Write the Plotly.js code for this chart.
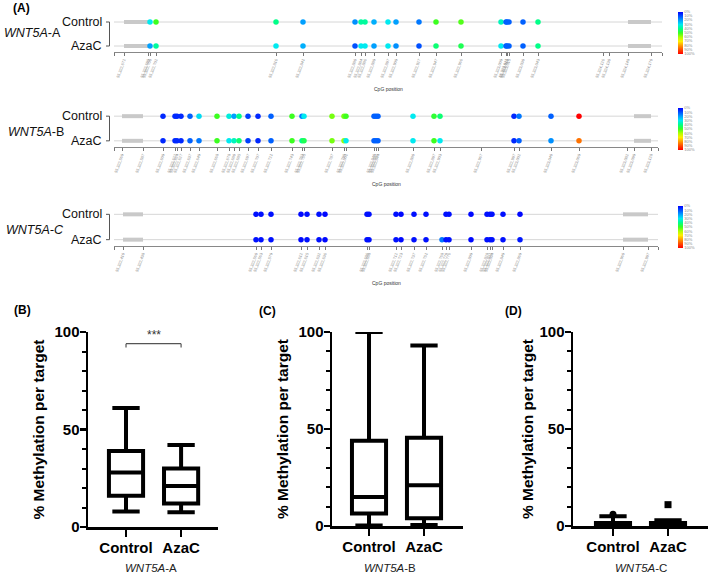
<!DOCTYPE html>
<html><head><meta charset="utf-8">
<script src="https://cdn.plot.ly/plotly-3.0.1.min.js"></script>
<style>html,body{margin:0;padding:0;background:#fff}#c{width:709px;height:573px}</style>
</head><body><div id="c"></div>
<script>
// ---------- DATA ----------
const groups = ['Control', 'AzaC'];
const gene = 'WNT5A';
const targets = ['A', 'B', 'C'];
const pctTicks = [0,10,20,30,40,50,60,70,80,90,100];

// Row A (WNT5A-A): CpG positions (display order units), labels, % methylation
const posA = [0,10,34,36,42,162,189,241,247,251,260,274,282,305,322,347,387,392,393,395,409,424,489,495,514,537,548];
const labA = ['','55,322,672','55,322,699','55,322,700','55,322,702','55,322,816','55,322,841','55,322,880','55,322,884','55,322,886','55,322,889','55,322,897','55,322,909','55,322,927','55,322,947','55,322,966','55,323,009','55,323,011','55,323,013','55,323,015','55,323,030','55,323,043','55,324,126','55,324,130','55,324,148','55,324,170',''];
const ctrlA = [null,null,null,30,50,40,20,18,38,38,22,30,20,15,50,52,35,12,12,12,12,40,null,null,null,null,null];
const azaA  = [null,null,null,20,38,30,22,10,30,30,20,30,18,10,42,45,30,12,12,12,12,40,null,null,null,null,null];
const barA = [[10,34],[514,537]];

// Row B (WNT5A-B)
const posB = [0,8,29,49,61,63,67,76,85,103,115,120,125,134,144,157,178,188,190,218,230,232,260,262,264,299,320,326,367,400,405,437,465,513,520,537,544];
const labB = ['','55,322,569','55,322,587','55,322,609','55,322,622','55,322,624','55,322,627','55,322,637','55,322,649','55,322,668','55,322,678','55,322,680','55,322,685','55,322,697','55,322,707','55,322,721','55,322,743','55,322,753','55,322,755','55,322,787','55,322,799','55,322,801','55,322,840','55,322,842','55,322,844','55,322,880','55,322,897','55,322,903','55,322,967','55,322,997','55,323,002','55,323,040','55,323,069','55,323,082','55,323,099','55,323,128',''];
const ctrlB = [null,null,null,5,5,5,5,12,28,50,32,20,40,8,5,12,50,15,30,55,55,50,12,12,12,30,48,42,null,5,15,12,100,null,null,null,null];
const azaB  = [null,null,null,5,5,5,5,12,15,50,30,35,42,8,5,12,50,40,45,55,58,30,12,12,12,30,50,30,null,5,12,18,85,null,null,null,null];
const barB = [[8,29],[520,537]];

// Row C (WNT5A-C)
const posC = [0,9,29,142,147,157,187,193,205,211,253,255,282,287,300,312,328,332,335,357,373,376,378,389,406,509,534,544];
const labC = ['','55,322,410','55,322,438','55,322,560','55,322,563','55,322,579','55,322,612','55,322,615','55,322,632','55,322,636','55,322,686','55,322,688','55,322,712','55,322,723','55,322,737','55,322,751','55,322,768','55,322,770','55,322,776','55,322,809','55,322,828','55,322,831','55,322,834','55,322,849','55,322,869','55,322,960','55,322,997',''];
const ctrlC = [null,null,null,2,2,2,1,2,2,1,2,2,2,1,2,2,null,2,2,1,2,2,2,2,1,null,null,null];
const azaC  = [null,null,null,2,2,2,1,2,2,1,2,2,2,1,2,2,15,2,2,1,2,2,2,2,3,null,null,null];
const barC = [[9,29],[509,534]];

// Box plots: % methylation per target
const boxQ1     = [[16,12],[6.5,4],[0,0]];
const boxMedian = [[28,21],[15,21],[0.5,0.5]];
const boxQ3     = [[39,30],[44,45.5],[1.5,1.5]];
const boxLow    = [[8,7.5],[0.3,0.5],[0,0]];
const boxHigh   = [[61,42],[100,93],[5,3]];
const outlierCtrlD = [6];
const outlierAzaD  = [11];
const sigLabel = '***';

// ---------- LAYOUT HELPERS ----------
const W = 709, H = 573;
const fx = p => p / W, fy = p => 1 - p / H;
const FONT = 'Arial, "Liberation Sans", sans-serif';
const cscale = [[0,'#ff0000'],[0.1,'#ff4a00'],[0.2,'#ff9a00'],[0.3,'#ffee00'],[0.4,'#b0ff00'],[0.5,'#3cff20'],[0.6,'#00ff88'],[0.7,'#00eaf0'],[0.8,'#00a0ff'],[0.9,'#0050ff'],[1,'#0000ff']];

const rows = [
  {pos: posA, lab: labA, ctrl: ctrlA, aza: azaA, bar: barA, xr: [0,548], xd: [114,662], yd: [16,52], cb: 32.5, cpgY: 89, nameY: 33, nameX: 2},
  {pos: posB, lab: labB, ctrl: ctrlB, aza: azaB, bar: barB, xr: [0,544], xd: [114,658], yd: [110,147], cb: 129, cpgY: 184, nameY: 132, nameX: 6},
  {pos: posC, lab: labC, ctrl: ctrlC, aza: azaC, bar: barC, xr: [0,544], xd: [114,658], yd: [208,246], cb: 227, cpgY: 283, nameY: 230, nameX: 4}
];

const traces = [];
const layout = {
  width: W, height: H, margin: {l:0, r:0, t:0, b:0}, paper_bgcolor: '#fff', plot_bgcolor: 'rgba(0,0,0,0)',
  showlegend: false, font: {family: FONT, color: '#000'}, annotations: [], shapes: []
};

rows.forEach((r, i) => {
  const n = i + 1;
  const xa = n === 1 ? 'x' : 'x' + n, ya = n === 1 ? 'y' : 'y' + n;
  const ca = n === 1 ? 'coloraxis' : 'coloraxis' + n;
  layout[n === 1 ? 'xaxis' : 'xaxis' + n] = {
    domain: [fx(r.xd[0]), fx(r.xd[1])], anchor: ya, range: r.xr, fixedrange: true,
    tickmode: 'array', tickvals: r.pos, ticktext: r.lab, tickangle: -70,
    tickfont: {size: 4, color: '#8a8a8a', family: FONT},
    ticks: 'outside', ticklen: 3, tickwidth: 1, tickcolor: '#777',
    showline: true, linecolor: '#888', linewidth: 1, showgrid: false, zeroline: false
  };
  layout[n === 1 ? 'yaxis' : 'yaxis' + n] = {
    domain: [fy(r.yd[1]), fy(r.yd[0])], anchor: xa, range: [-0.25, 1.25], fixedrange: true,
    showticklabels: false, showgrid: false, zeroline: false, showline: false, ticks: ''
  };
  layout[ca] = {
    cmin: -100, cmax: 0, colorscale: cscale,
    colorbar: {
      x: fx(678), xanchor: 'left', y: fy(r.cb), yanchor: 'middle',
      len: 42, lenmode: 'pixels', thickness: 5, thicknessmode: 'pixels',
      outlinewidth: 0, ticks: '', xpad: 0, ypad: 0,
      tickmode: 'array', tickvals: pctTicks.map(v => -v), ticktext: pctTicks.map(v => v + '%'),
      tickfont: {size: 4, color: '#8a8a8a', family: FONT}
    }
  };
  // row guide lines
  [1, 0].forEach(yv => layout.shapes.push({type: 'line', layer: 'below', xref: xa + ' domain', yref: ya,
    x0: 0, x1: 1, y0: yv, y1: yv, line: {color: '#d6d6d6', width: 1}}));
  // amplicon/primer bars
  const bx = [], by = [];
  [1, 0].forEach(yv => r.bar.forEach(b => { bx.push(b[0], b[1], null); by.push(yv, yv, null); }));
  traces.push({type: 'scatter', mode: 'lines', x: bx, y: by, xaxis: xa, yaxis: ya,
    line: {color: '#c9c9c9', width: 4}, hoverinfo: 'skip'});
  // CpG dots
  [[r.ctrl, 1], [r.aza, 0]].forEach(([vals, yv]) => {
    const x = [], c = [];
    vals.forEach((v, k) => { if (v !== null) { x.push(r.pos[k]); c.push(-v); } });
    traces.push({type: 'scatter', mode: 'markers', x: x, y: x.map(() => yv), xaxis: xa, yaxis: ya,
      marker: {size: 5.5, color: c, coloraxis: ca}, hoverinfo: 'x'});
  });
  // group labels
  [[groups[0], 1], [groups[1], 0]].forEach(([t, yv]) => layout.annotations.push({
    text: t, xref: 'paper', yref: ya, x: fx(104), y: yv, xanchor: 'right', yanchor: 'middle',
    showarrow: false, font: {size: 12.5, family: FONT, color: '#111'}}));
  // bracket
  layout.shapes.push({type: 'line', xref: 'paper', yref: ya, x0: fx(106), x1: fx(109.5), y0: 1, y1: 1, line: {color: '#555', width: 1}});
  layout.shapes.push({type: 'line', xref: 'paper', yref: ya, x0: fx(106), x1: fx(109.5), y0: 0, y1: 0, line: {color: '#555', width: 1}});
  layout.shapes.push({type: 'line', xref: 'paper', yref: ya, x0: fx(109.5), x1: fx(109.5), y0: 0, y1: 1, line: {color: '#555', width: 1}});
  // row name
  const ital = i === 2 ? '<i>' + gene + '-' + targets[i] + '</i>' : '<i>' + gene + '</i>-' + targets[i];
  layout.annotations.push({text: ital, xref: 'paper', yref: 'paper', x: fx(r.nameX), y: fy(r.nameY),
    xanchor: 'left', yanchor: 'middle', showarrow: false, font: {size: 12.5, family: FONT, color: '#111'}});
  // CpG position label
  layout.annotations.push({text: 'CpG position', xref: 'paper', yref: 'paper', x: fx((r.xd[0] + r.xd[1]) / 2), y: fy(r.cpgY),
    xanchor: 'center', yanchor: 'middle', showarrow: false, font: {size: 5, family: FONT, color: '#333'}});
});

// ---------- BOX PLOTS ----------
const boxes = [
  {xd: [88,218], yd: [332,527], xr: [-0.69,1.67], tx: 38, sub: 151},
  {xd: [332,463], yd: [332,526], xr: [-0.673,1.709], tx: 282, sub: 390},
  {xd: [573,708], yd: [332,526], xr: [-0.727,1.727], tx: 527, sub: 641}
];
boxes.forEach((b, i) => {
  const n = i + 4, xa = 'x' + n, ya = 'y' + n;
  layout['xaxis' + n] = {
    domain: [fx(b.xd[0]), fx(b.xd[1])], anchor: ya, range: b.xr, type: 'category', fixedrange: true,
    showline: true, linecolor: '#000', linewidth: 2.5, ticks: 'outside', ticklen: 7, tickwidth: 2.5, tickcolor: '#000',
    ticklabelstandoff: -2,
    tickfont: {size: 15, family: FONT, weight: 700, color: '#000'}, showgrid: false, zeroline: false
  };
  layout['yaxis' + n] = {
    domain: [fy(b.yd[1]), fy(b.yd[0])], anchor: xa, range: [0, 100], fixedrange: true,
    tickmode: 'array', tickvals: [0, 50, 100], ticks: 'outside', ticklen: 6, tickwidth: 2.5, tickcolor: '#000',
    ticklabelstandoff: -3,
    minor: {tickmode: 'array', tickvals: [10,20,30,40,60,70,80,90], ticks: 'outside', ticklen: 4, tickwidth: 2, tickcolor: '#000'},
    showline: true, linecolor: '#000', linewidth: 2.5, showgrid: false, zeroline: false,
    tickfont: {size: 15, family: FONT, weight: 700, color: '#000'}
  };
  traces.push({type: 'box', x: groups, q1: boxQ1[i], median: boxMedian[i], q3: boxQ3[i],
    lowerfence: boxLow[i], upperfence: boxHigh[i], xaxis: xa, yaxis: ya, boxpoints: false,
    width: 0.62, whiskerwidth: 0.8, fillcolor: '#fff', line: {color: '#000', width: 4}, hoverinfo: 'y'});
  layout.annotations.push({text: '% Methylation per target', xref: 'paper', yref: 'paper', x: fx(b.tx),
    y: fy((b.yd[0] + b.yd[1]) / 2), textangle: -90, xanchor: 'center', yanchor: 'middle', showarrow: false,
    font: {size: 15.5, family: FONT, weight: 700, color: '#000'}});
  layout.annotations.push({text: '<i>' + gene + '</i>-' + targets[i], xref: 'paper', yref: 'paper', x: fx(b.sub), y: fy(568),
    xanchor: 'center', yanchor: 'middle', showarrow: false, font: {size: 11.5, family: FONT, color: '#222'}});
});
// outliers in D
traces.push({type: 'scatter', mode: 'markers', x: outlierCtrlD.map(() => groups[0]), y: outlierCtrlD, xaxis: 'x6', yaxis: 'y6',
  marker: {symbol: 'circle', size: 7, color: '#000'}, hoverinfo: 'y'});
traces.push({type: 'scatter', mode: 'markers', x: outlierAzaD.map(() => groups[1]), y: outlierAzaD, xaxis: 'x6', yaxis: 'y6',
  marker: {symbol: 'square', size: 7, color: '#000'}, hoverinfo: 'y'});

// significance bracket in B
layout.shapes.push({type: 'line', xref: 'x4', yref: 'y4', x0: 0, x1: 1, y0: 94, y1: 94, line: {color: '#555', width: 1.2}});
layout.shapes.push({type: 'line', xref: 'x4', yref: 'y4', x0: 0, x1: 0, y0: 94, y1: 92, line: {color: '#555', width: 1.2}});
layout.shapes.push({type: 'line', xref: 'x4', yref: 'y4', x0: 1, x1: 1, y0: 94, y1: 92, line: {color: '#555', width: 1.2}});
layout.annotations.push({text: sigLabel, xref: 'x4', yref: 'y4', x: 0.5, y: 98.5, xanchor: 'center', yanchor: 'middle',
  showarrow: false, font: {size: 12, family: FONT, color: '#333'}});

// panel letters
[['(A)', 11, 8], ['(B)', 12, 310], ['(C)', 257, 311], ['(D)', 503, 311]].forEach(([t, x, y]) =>
  layout.annotations.push({text: t, xref: 'paper', yref: 'paper', x: fx(x), y: fy(y), xanchor: 'left', yanchor: 'middle',
    showarrow: false, font: {size: 12, family: FONT, weight: 700, color: '#000'}}));

Plotly.newPlot('c', traces, layout, {displayModeBar: false, staticPlot: true});
</script></body></html>
